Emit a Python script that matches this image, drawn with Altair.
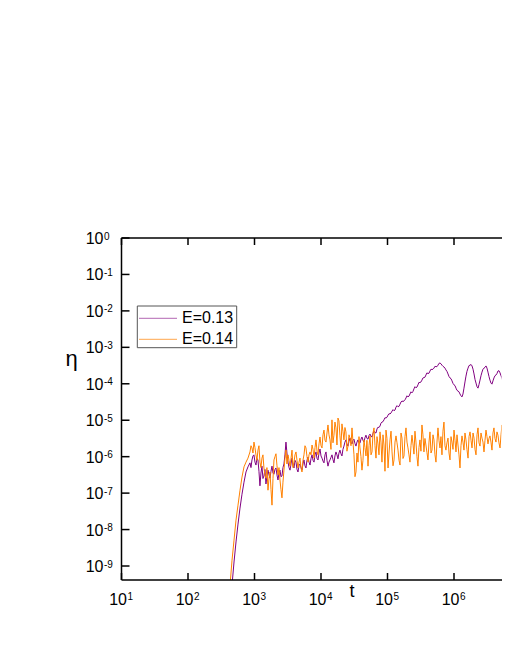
import altair as alt
import pandas as pd

# log10(t) sample positions (shared by both runs)
log_t = [
    2.632, 2.662, 2.692, 2.722, 2.752, 2.782, 2.812, 2.842, 2.872, 2.902,
    2.932, 2.962, 2.992, 3.022, 3.052, 3.082, 3.112, 3.142, 3.172, 3.203,
    3.233, 3.263, 3.293, 3.323, 3.353, 3.383, 3.413, 3.443, 3.473, 3.504,
    3.534, 3.564, 3.594, 3.624, 3.654, 3.684, 3.714, 3.744, 3.774, 3.805,
    3.835, 3.865, 3.895, 3.925, 3.955, 3.985, 4.015, 4.045, 4.075, 4.105,
    4.135, 4.165, 4.195, 4.225, 4.255, 4.285, 4.315, 4.345, 4.375, 4.406,
    4.436, 4.466, 4.496, 4.526, 4.556, 4.586, 4.616, 4.646, 4.676, 4.707,
    4.737, 4.767, 4.797, 4.827, 4.857, 4.887, 4.917, 4.947, 4.977, 5.008,
    5.038, 5.068, 5.098, 5.128, 5.158, 5.188, 5.218, 5.248, 5.278, 5.308,
    5.338, 5.368, 5.398, 5.428, 5.458, 5.488, 5.518, 5.548, 5.578, 5.609,
    5.639, 5.669, 5.699, 5.729, 5.759, 5.789, 5.819, 5.849, 5.879, 5.910,
    5.940, 5.970, 6.000, 6.030, 6.060, 6.090, 6.120, 6.150, 6.180, 6.211,
    6.241, 6.271, 6.301, 6.331, 6.361, 6.391, 6.421, 6.451, 6.481, 6.511,
    6.541, 6.571, 6.601, 6.631, 6.661, 6.692, 6.722, 6.752, 6.782, 6.812,
    6.842, 6.872,
]

# extra in-between sample positions (denser part of the record)
log_t_mid = [
    2.947, 2.977, 3.007, 3.037, 3.067, 3.097, 3.127, 3.157, 3.187, 3.218,
    3.248, 3.278, 3.308, 3.338, 3.368, 3.398, 3.428, 3.458, 3.488, 3.519,
    3.549, 3.579, 3.609, 3.639, 3.669, 3.699, 3.729, 3.759, 3.789, 3.820,
    3.850, 3.880, 3.910, 3.940, 3.970, 4.000, 4.030, 4.060, 4.090, 4.120,
    4.150, 4.180, 4.210, 4.240, 4.270, 4.300, 4.330, 4.360, 4.390, 4.421,
    4.451, 4.481, 4.511, 4.541, 4.571, 4.601, 4.631, 4.661, 4.691, 4.722,
    4.752, 4.782, 4.812, 4.842, 4.872, 4.902, 4.932, 4.962, 4.992, 5.023,
    5.053, 5.083, 5.113, 5.143, 5.173, 5.203, 5.233, 5.263, 5.293, 5.323,
    5.353, 5.383, 5.413, 5.443, 5.473, 5.503, 5.533, 5.563, 5.593, 5.624,
    5.654, 5.684, 5.714, 5.744, 5.774, 5.804, 5.834, 5.864, 5.894, 5.925,
    5.955, 5.985, 6.015, 6.045, 6.075, 6.105, 6.135, 6.165, 6.195, 6.226,
    6.256, 6.286, 6.316, 6.346, 6.376, 6.406, 6.436, 6.466, 6.496, 6.526,
    6.556, 6.586, 6.616, 6.646, 6.676, 6.707, 6.737, 6.767, 6.797, 6.827,
]

# log10(eta) for E=0.13 (purple)
log_eta_013 = [
    -10.1, -9.52, -8.89, -8.34, -7.85, -7.41, -7.03, -6.70, -6.42, -6.28,
    -6.17, -6.09, -5.95, -6.23, -6.09, -6.80, -6.26, -6.53, -6.75, -6.37,
    -6.59, -6.26, -6.48, -6.31, -6.64, -6.37, -6.53, -6.20, -5.60, -6.15,
    -6.37, -6.04, -6.31, -6.15, -6.42, -6.20, -6.37, -6.09, -6.31, -6.01,
    -6.23, -5.95, -6.15, -5.87, -6.09, -5.79, -6.04, -6.17, -5.87, -6.26,
    -6.09, -5.95, -6.17, -5.87, -6.06, -5.82, -5.98, -5.71, -5.54, -5.71,
    -5.49, -5.65, -5.52, -5.71, -5.54, -5.63, -5.46, -5.60, -5.41, -5.52,
    -5.38, -5.46, -5.30, -5.35, -5.19, -5.16, -5.05, -4.99, -4.94, -4.86,
    -4.83, -4.75, -4.74, -4.64, -4.63, -4.56, -4.47, -4.47, -4.39, -4.36,
    -4.28, -4.25, -4.14, -4.11, -4.03, -3.97, -3.90, -3.83, -3.76, -3.72,
    -3.65, -3.61, -3.57, -3.53, -3.49, -3.43, -3.49, -3.54, -3.62, -3.73,
    -3.84, -3.92, -4.03, -4.12, -4.20, -4.28, -4.36, -4.12, -3.79, -3.57,
    -3.49, -3.51, -3.73, -3.98, -4.12, -3.90, -3.68, -3.57, -3.51, -3.68,
    -3.90, -4.01, -3.84, -3.76, -3.65, -3.70, -3.84, -4.06, -4.20, -4.09,
    -3.84, -3.72,
]
log_eta_013_mid = [
    -6.30, -5.98, -6.15, -6.05, -6.40, -6.45, -6.60, -6.35, -6.55, -6.50,
    -6.40, -6.45, -6.35, -6.50, -6.45, -6.55, -6.30, -5.95, -5.90, -6.30,
    -6.20, -6.25, -6.10, -6.35, -6.25, -6.30, -6.20, -6.25, -6.10, -6.15,
    -6.05, -6.10, -5.95, -6.05, -5.90, -5.98, -6.12, -5.95, -6.10, -6.15,
    -6.02, -6.08, -5.98, -5.95, -5.90, -5.92, -5.80, -5.60, -5.65, -5.58,
    -5.60, -5.55, -5.64, -5.60, -5.62, -5.52, -5.55, -5.48, -5.50, -5.42,
    -5.44, -5.36, -5.34, -5.24, -5.20, -5.08, -5.04, -4.93, -4.92, -4.82,
    -4.80, -4.71, -4.72, -4.60, -4.62, -4.50, -4.49, -4.44, -4.33, -4.34,
    -4.22, -4.21, -4.08, -4.09, -3.96, -3.95, -3.84, -3.82, -3.70, -3.71,
    -3.60, -3.60, -3.52, -3.53, -3.44, -3.45, -3.52, -3.57, -3.66, -3.80,
    -3.86, -3.99, -4.05, -4.18, -4.22, -4.33, -4.28, -3.95, -3.66, -3.50,
    -3.47, -3.60, -3.88, -4.08, -4.02, -3.78, -3.60, -3.55, -3.57, -3.80,
    -3.98, -3.92, -3.78, -3.72, -3.64, -3.78, -3.95, -4.16, -4.12, -3.95,
]

# log10(eta) for E=0.14 (orange)
log_eta_014 = [
    -9.52, -8.84, -8.29, -7.74, -7.33, -6.92, -6.56, -6.28, -6.15, -6.04,
    -5.87, -5.76, -5.60, -5.95, -5.82, -6.15, -6.04, -6.31, -6.59, -6.92,
    -6.42, -7.33, -6.09, -5.92, -6.50, -6.64, -7.13, -6.37, -5.82, -5.95,
    -6.26, -5.82, -6.15, -5.87, -6.31, -6.04, -6.42, -5.95, -5.76, -6.15,
    -5.87, -5.68, -6.04, -5.54, -5.95, -5.46, -5.76, -5.27, -5.60, -5.13,
    -5.54, -4.99, -5.41, -5.21, -4.94, -5.43, -5.10, -5.54, -5.32, -5.71,
    -5.49, -5.21, -5.95, -6.42, -6.15, -5.76, -6.37, -5.54, -5.98, -6.26,
    -5.43, -5.87, -5.21, -6.04, -5.65, -5.32, -6.15, -5.68, -5.27, -6.31,
    -5.54, -5.87, -6.09, -5.43, -5.82, -6.23, -5.49, -5.98, -5.21, -5.76,
    -6.15, -5.41, -5.93, -5.60, -6.26, -5.54, -5.13, -5.87, -5.68, -6.09,
    -5.32, -5.82, -5.54, -6.15, -5.21, -5.76, -5.95, -5.05, -5.82, -5.49,
    -6.09, -5.60, -5.27, -5.87, -5.68, -6.31, -5.43, -5.82, -5.54, -6.04,
    -5.32, -5.76, -5.49, -5.95, -5.21, -5.71, -5.49, -5.87, -5.27, -5.65,
    -5.43, -5.82, -5.21, -5.60, -5.41, -5.76, -5.13, -5.54, -5.32, -5.68,
    -5.27, -5.50,
]
log_eta_014_mid = [
    -5.70, -5.90, -5.75, -6.10, -5.70, -6.30, -5.95, -6.50, -6.30, -6.60,
    -6.90, -6.60, -6.00, -6.25, -6.30, -6.90, -6.70, -6.05, -6.20, -6.10,
    -6.05, -6.30, -5.95, -6.10, -6.15, -6.30, -6.10, -5.70, -6.00, -5.95,
    -5.95, -5.80, -5.75, -5.85, -5.65, -5.70, -5.40, -5.55, -5.35, -5.40,
    -5.80, -5.62, -5.05, -5.68, -5.02, -5.75, -5.30, -5.20, -5.85, -5.40,
    -5.70, -5.60, -6.55, -5.90, -5.45, -6.00, -6.10, -5.75, -5.55, -5.70,
    -5.95, -5.35, -5.70, -5.45, -5.95, -5.60, -5.40, -6.40, -5.50, -5.90,
    -5.30, -6.25, -5.60, -5.62, -6.10, -5.35, -6.05, -5.45, -5.60, -5.95,
    -5.70, -5.65, -5.30, -6.00, -5.75, -5.85, -5.40, -5.50, -5.88, -5.60,
    -5.90, -5.40, -5.95, -5.60, -5.55, -5.45, -5.30, -5.70, -5.62, -5.90,
    -5.45, -5.80, -5.55, -5.40, -5.95, -5.70, -5.60, -5.35, -5.80, -5.45,
    -5.55, -5.35, -5.80, -5.40, -5.62, -5.35, -5.60, -5.55, -5.45, -5.50,
    -5.60, -5.35, -5.50, -5.32, -5.62, -5.40, -5.45, -5.25, -5.55, -5.35,
]

series_names = ["E=0.13", "E=0.14"]
series_colors = ["#800080", "#FF8000"]

x_tick_exps = [1, 2, 3, 4, 5, 6]
y_tick_exps = [0, -1, -2, -3, -4, -5, -6, -7, -8, -9]

W, H = 380, 342
PX_PER_DECADE = 66.5
FONT = "Liberation Sans"

xscale = alt.Scale(type="log", domain=[10, 10 ** (1 + W / PX_PER_DECADE)], nice=False)
yscale = alt.Scale(type="log", domain=[10 ** -9.384, 1], nice=False)


def make_df(lt, le, lt2, le2):
    df = pd.DataFrame({"lt": lt + lt2, "le": le + le2}).sort_values("lt")
    return pd.DataFrame({"t": 10 ** df["lt"], "eta": 10 ** df["le"]})


d13 = make_df(log_t, log_eta_013, log_t_mid, log_eta_013_mid)
d14 = make_df(log_t, log_eta_014, log_t_mid, log_eta_014_mid)


def curve(df, color):
    return alt.Chart(df).mark_line(clip=True, strokeWidth=1, color=color).encode(
        x=alt.X("t:Q", scale=xscale, axis=None),
        y=alt.Y("eta:Q", scale=yscale, axis=None),
        order="t:Q",
    )


xt = pd.DataFrame({"v": [10.0 ** e for e in x_tick_exps],
                   "exp": [str(e) for e in x_tick_exps]})
yt = pd.DataFrame({"v": [10.0 ** e for e in y_tick_exps],
                   "exp": [str(e) for e in y_tick_exps]})
one = pd.DataFrame({"a": [0]})

frame_top = alt.Chart(one).mark_rule(color="black", strokeWidth=1.5).encode(
    x=alt.value(0), x2=alt.value(W + 2), y=alt.value(0))
frame_bottom = alt.Chart(one).mark_rule(color="black", strokeWidth=1.5).encode(
    x=alt.value(0), x2=alt.value(W + 2), y=alt.value(H))
frame_left = alt.Chart(one).mark_rule(color="black", strokeWidth=1.5).encode(
    x=alt.value(0), y=alt.value(0), y2=alt.value(H))

ticks_bottom = alt.Chart(xt).mark_rule(color="black", strokeWidth=1.5).encode(
    x=alt.X("v:Q", scale=xscale, axis=None), y=alt.value(H), y2=alt.value(H - 7))
ticks_top = alt.Chart(xt).mark_rule(color="black", strokeWidth=1.5).encode(
    x=alt.X("v:Q", scale=xscale, axis=None), y=alt.value(0), y2=alt.value(7))
ticks_left = alt.Chart(yt).mark_rule(color="black", strokeWidth=1.5).encode(
    y=alt.Y("v:Q", scale=yscale, axis=None), x=alt.value(0), x2=alt.value(8))

xlab_base = alt.Chart(xt).mark_text(font=FONT, fontSize=16, align="right",
                                    baseline="alphabetic", dx=5.5, color="black").encode(
    x=alt.X("v:Q", scale=xscale, axis=None), y=alt.value(H + 25), text=alt.value("10"))
xlab_exp = alt.Chart(xt).mark_text(font=FONT, fontSize=10, align="left",
                                   baseline="alphabetic", dx=6, color="black").encode(
    x=alt.X("v:Q", scale=xscale, axis=None), y=alt.value(H + 19.5), text="exp:N")

ylab_base = alt.Chart(yt).mark_text(font=FONT, fontSize=16, align="right",
                                    baseline="alphabetic", dy=6, color="black").encode(
    y=alt.Y("v:Q", scale=yscale, axis=None), x=alt.value(-18), text=alt.value("10"))
ylab_exp = alt.Chart(yt).mark_text(font=FONT, fontSize=10, align="left",
                                   baseline="alphabetic", dy=1.5, color="black").encode(
    y=alt.Y("v:Q", scale=yscale, axis=None), x=alt.value(-17.5), text="exp:N")

title_eta = alt.Chart(one).mark_text(font=FONT, fontSize=22, align="center",
                                     baseline="alphabetic", color="black").encode(
    x=alt.value(-50), y=alt.value(128), text=alt.value("η"))
title_t = alt.Chart(one).mark_text(font=FONT, fontSize=18, align="center",
                                   baseline="alphabetic", color="black").encode(
    x=alt.value(230.5), y=alt.value(359), text=alt.value("t"))

legend_box = alt.Chart(one).mark_rect(fill="white", stroke="#555555", strokeWidth=1).encode(
    x=alt.value(15.8), x2=alt.value(115.2), y=alt.value(68), y2=alt.value(109.7))
leg_line1 = alt.Chart(one).mark_rule(color=series_colors[0], strokeWidth=1, opacity=0.6).encode(
    x=alt.value(17.5), x2=alt.value(55.5), y=alt.value(80.3))
leg_line2 = alt.Chart(one).mark_rule(color=series_colors[1], strokeWidth=1, opacity=0.7).encode(
    x=alt.value(17.5), x2=alt.value(55.5), y=alt.value(101.3))
leg_text1 = alt.Chart(one).mark_text(font=FONT, fontSize=16, align="left",
                                     baseline="alphabetic", color="black").encode(
    x=alt.value(60.5), y=alt.value(85), text=alt.value(series_names[0]))
leg_text2 = alt.Chart(one).mark_text(font=FONT, fontSize=16, align="left",
                                     baseline="alphabetic", color="black").encode(
    x=alt.value(60.5), y=alt.value(106), text=alt.value(series_names[1]))

chart = alt.layer(
    curve(d13, series_colors[0]),
    curve(d14, series_colors[1]),
    frame_top, frame_bottom, frame_left,
    ticks_bottom, ticks_top, ticks_left,
    xlab_base, xlab_exp, ylab_base, ylab_exp,
    title_eta, title_t,
    legend_box, leg_line1, leg_line2, leg_text1, leg_text2,
).properties(
    width=W, height=H,
    background="white",
    view=alt.ViewBackground(stroke="transparent", strokeWidth=0),
    autosize=alt.AutoSizeParams(type="none"),
    padding={"left": 113.5, "top": 230, "right": 0, "bottom": 40},
).configure_view(strokeWidth=0, stroke="transparent")

chart.save("out.html", embed_options={"renderer": "svg", "actions": False})
